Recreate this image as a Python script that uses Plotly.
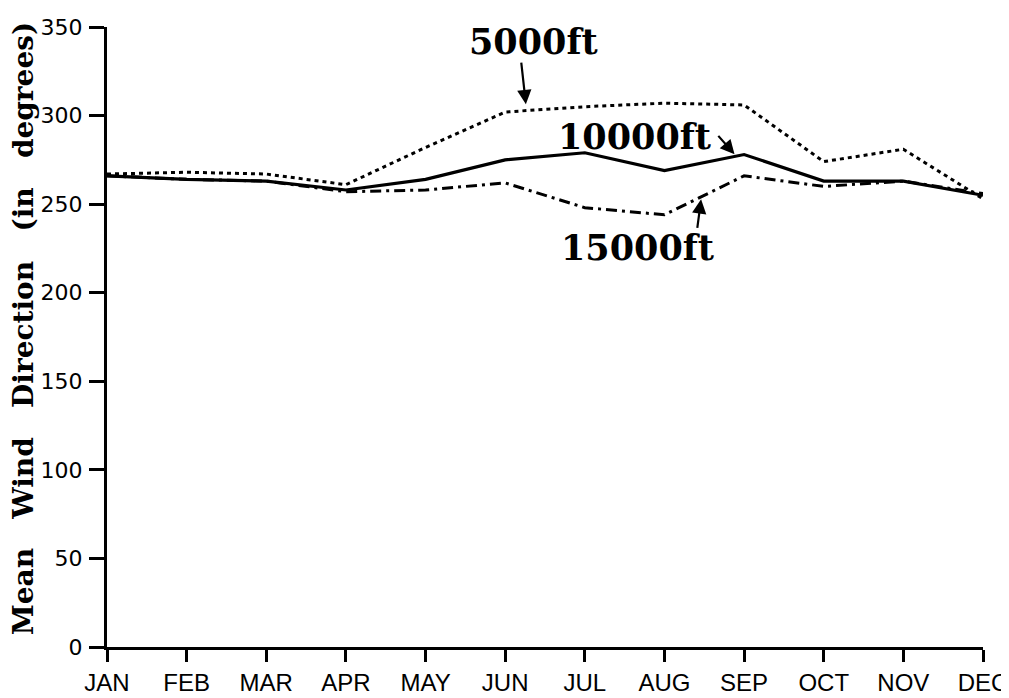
import plotly.graph_objects as go

months = ["JAN", "FEB", "MAR", "APR", "MAY", "JUN", "JUL", "AUG", "SEP", "OCT", "NOV", "DEC"]
ft5000 = [267, 268, 267, 261, 282, 302, 305, 307, 306, 274, 281, 253]
ft10000 = [266, 264, 263, 258, 264, 275, 279, 269, 278, 263, 263, 255]
ft15000 = [266, 264, 263, 257, 258, 262, 248, 244, 266, 260, 263, 256]
y_ticks = [0, 50, 100, 150, 200, 250, 300, 350]

fig = go.Figure()
fig.add_trace(go.Scatter(x=months, y=ft5000, mode="lines", name="5000ft",
                         line=dict(color="black", width=3, dash="4px,4px")))
fig.add_trace(go.Scatter(x=months, y=ft10000, mode="lines", name="10000ft",
                         line=dict(color="black", width=3.2)))
fig.add_trace(go.Scatter(x=months, y=ft15000, mode="lines", name="15000ft",
                         line=dict(color="black", width=3, dash="11px,5px,3px,5px")))

lab_font = dict(family="DejaVu Serif", size=35, color="black", weight="bold")

labels = [
    ("5000ft", 5.35, 342, 5.20, 330.7, 5.26, 306.4),
    ("10000ft", 6.63, 288.3, 7.66, 289.4, 7.88, 278.1),
    ("15000ft", 6.66, 225.5, 7.41, 235.7, 7.46, 252.7),
]
annotations = []
for txt, tx, ty, ax, ay, hx, hy in labels:
    annotations.append(dict(x=tx, y=ty, xref="x", yref="y", text=txt, showarrow=False,
                            font=lab_font, xanchor="center", yanchor="middle"))
    annotations.append(dict(x=hx, y=hy, xref="x", yref="y", ax=ax, ay=ay,
                            axref="x", ayref="y", text="", showarrow=True,
                            arrowhead=2, arrowsize=1.3, arrowwidth=2.2, arrowcolor="black"))

nb = "\u00a0\u00a0\u00a0"
annotations.append(dict(
    x=-0.0959, y=0.514, xref="paper", yref="paper",
    text=f"Mean{nb}Wind{nb}Direction{nb}(in{nb}degrees)",
    textangle=-90, showarrow=False, xanchor="center", yanchor="middle",
    font=dict(family="DejaVu Serif", size=28, color="black", weight="bold")))

# the page body adds an 8px offset, so the figure is 8px smaller on each side
fig.update_layout(
    width=1001, height=690,
    margin=dict(l=99, r=26, t=19, b=51, autoexpand=False),
    paper_bgcolor="white", plot_bgcolor="white",
    showlegend=False,
    annotations=annotations,
    xaxis=dict(type="category", range=[0, 11], showgrid=False, zeroline=False,
               automargin=False,
               showline=True, linecolor="black", linewidth=3,
               ticks="outside", ticklen=12, tickwidth=3, tickcolor="black",
               tickfont=dict(family="Liberation Sans Narrow, Liberation Sans, sans-serif", size=24, color="black"),
               ticklabelstandoff=0),
    yaxis=dict(range=[0, 350], tickvals=y_ticks, showgrid=False, zeroline=False,
               automargin=False,
               showline=True, linecolor="black", linewidth=3,
               ticks="outside", ticklen=15, tickwidth=3, tickcolor="black",
               tickfont=dict(family="DejaVu Sans", size=22, color="black"),
               ticklabelstandoff=2),
)

fig.write_html("out.html")
